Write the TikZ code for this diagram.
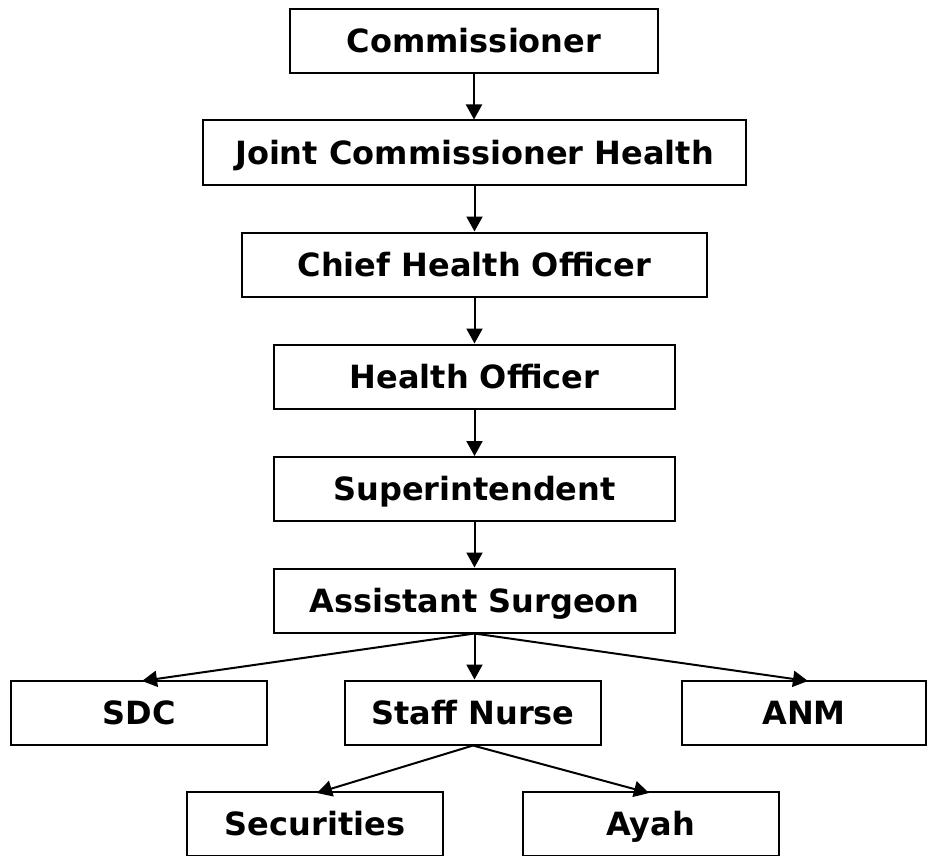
\documentclass[tikz,border=0pt]{standalone}
\usepackage{fontspec}
\setmainfont{DejaVu Sans}
\usetikzlibrary{arrows.meta}
\begin{document}
\begin{tikzpicture}[x=1pt,y=-1pt,
  box/.style={draw=black, line width=2pt, fill=white, inner sep=0pt,
    minimum height=64pt, text height=23.5pt, text depth=0pt,
    font=\bfseries\fontsize{32}{38}\selectfont},
  link/.style={draw=black, line width=2pt, -{Triangle[length=15pt,width=16pt]}}]
\useasboundingbox (0,0) rectangle (929,856);
\node[box, minimum width=368pt] (com) at (474,41) {Commissioner};
\node[box, minimum width=543pt] (joint) at (474.5,152.5) {Joint Commissioner Health};
\node[box, minimum width=465pt] (chief) at (474.5,264.5) {Chief Health Officer};
\node[box, minimum width=401pt] (ho) at (474.5,376.5) {Health Officer};
\node[box, minimum width=401pt] (sup) at (474.5,489) {Superintendent};
\node[box, minimum width=401pt] (as) at (474.5,600.5) {Assistant Surgeon};
\node[box, minimum width=256pt] (sdc) at (139,712.5) {SDC};
\node[box, minimum width=256pt] (staff) at (473,712.5) {Staff Nurse};
\node[box, minimum width=244pt] (anm) at (804,712.5) {ANM};
\node[box, minimum width=256pt] (sec) at (315,824) {Securities};
\node[box, minimum width=256pt] (ayah) at (650.5,824) {Ayah};
\coordinate (sdcin) at (142,681);
\coordinate (anmin) at (808,681);
\coordinate (secin) at (317,793);
\coordinate (ayahin) at (649,793);
\draw[link] (com.south) -- (com.south |- joint.north);
\draw[link] (joint.south) -- (joint.south |- chief.north);
\draw[link] (chief.south) -- (chief.south |- ho.north);
\draw[link] (ho.south) -- (ho.south |- sup.north);
\draw[link] (sup.south) -- (sup.south |- as.north);
\draw[link] (as.south) -- (sdcin);
\draw[link] (as.south) -- (as.south |- staff.north);
\draw[link] (as.south) -- (anmin);
\draw[link] (staff.south) -- (secin);
\draw[link] (staff.south) -- (ayahin);
\end{tikzpicture}
\end{document}
